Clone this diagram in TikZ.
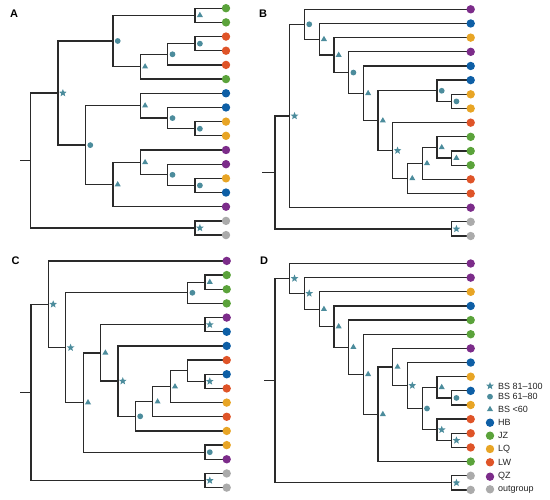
\documentclass[tikz,border=0pt]{standalone}
\usepackage{fontspec}
\setmainfont{Liberation Sans}
\usetikzlibrary{shapes.geometric}
\definecolor{HB}{HTML}{0E5FA6}
\definecolor{JZ}{HTML}{5BA33B}
\definecolor{LQ}{HTML}{E8A525}
\definecolor{LW}{HTML}{DF5428}
\definecolor{QZ}{HTML}{7C2C8A}
\definecolor{OG}{HTML}{ABABAB}
\definecolor{mkc}{HTML}{4C8C9C}
\definecolor{treecol}{HTML}{2A2A2A}
\definecolor{txtcol}{HTML}{222222}
\tikzset{
 branch/.style={draw=treecol, line width=1.3pt},
 tipdot/.style={circle, inner sep=0pt, minimum size=8.4pt},
 mstar/.style={star, star points=5, star point ratio=2.3, fill=mkc, inner sep=0pt, minimum size=8pt},
 mcirc/.style={circle, fill=mkc, inner sep=0pt, minimum size=5.8pt},
 mtri/.style={regular polygon, regular polygon sides=3, fill=mkc, inner sep=0pt, minimum size=7pt},
 lab/.style={anchor=west, inner sep=0pt, text=txtcol, font=\fontsize{9}{10}\selectfont},
 plab/.style={inner sep=0pt, text=black, font=\fontsize{11}{12}\selectfont\bfseries},
}
\newcommand\Nd[3]{\coordinate (#1) at ({\pX+\pDX*#2},{\pY+\pDY*(#3-1)});}
\newcommand\St[3]{\coordinate (#1) at ({#2},{\pY+\pDY*(#3-1)});}
\begin{document}
\begin{tikzpicture}[x=1pt,y=-1pt]
\useasboundingbox (0,0) rectangle (550,500);
% ---------------- Panel A
\def\pX{30.7}\def\pDX{27.4}\def\pY{8.2}\def\pDY{14.18}\def\pTX{226}
\foreach \i in {1,...,17} \coordinate (A\i) at ({\pTX},{\pY+\pDY*(\i-1)});
\Nd{a0}{0}{11.742}\Nd{a14}{1}{6.984}\Nd{a5}{3}{3.3125}\Nd{a1}{6}{1.5}
\Nd{a4}{4}{5.125}\Nd{a2}{5}{4.25}\Nd{a3}{6}{3.5}\Nd{a13}{2}{10.656}
\Nd{a6}{4}{7.875}\Nd{a7}{5}{8.75}\Nd{a8}{6}{9.5}\Nd{a12}{3}{13.4375}
\Nd{a9}{4}{11.875}\Nd{a10}{5}{12.75}\Nd{a11}{6}{13.5}\Nd{a15}{6}{16.5}
\St{aS}{20}{11.742}
\draw[branch] (aS) -- (a0);
\foreach \p/\c in {a0/a14,a0/a15,a14/a5,a14/a13,a5/a1,a5/a4,a1/A1,a1/A2,a4/a2,a4/A6,a2/a3,a2/A5,a3/A3,a3/A4,a13/a6,a13/a12,a6/A7,a6/a7,a7/A8,a7/a8,a8/A9,a8/A10,a12/a9,a12/A15,a9/A11,a9/a10,a10/A12,a10/a11,a11/A13,a11/A14,a15/A16,a15/A17}
  \draw[branch] (\p) |- (\c);
\foreach \n/\s in {a1/mtri,a3/mcirc,a2/mcirc,a4/mtri,a5/mcirc,a14/mstar,a8/mcirc,a7/mcirc,a6/mtri,a11/mcirc,a10/mcirc,a9/mtri,a12/mtri,a13/mcirc,a15/mstar}
  \node[\s, xshift=4.8pt] (m\n) at (\n) {};
\foreach \i/\c in {1/JZ,2/JZ,3/LW,4/LW,5/LW,6/JZ,7/HB,8/HB,9/LQ,10/LQ,11/QZ,12/QZ,13/LQ,14/HB,15/QZ,16/OG,17/OG}
  \node[tipdot, fill=\c] (tA\i) at (A\i) {};
% ---------------- Panel B
\def\pX{275}\def\pDX{14.72}\def\pY{9.3}\def\pDY{14.17}\def\pTX{470.7}
\foreach \i in {1,...,17} \coordinate (B\i) at ({\pTX},{\pY+\pDY*(\i-1)});
\Nd{b0}{0}{12.515}\Nd{b1}{1}{8.529}\Nd{b2}{2}{2.058}\Nd{b3}{3}{3.116}
\Nd{b4}{4}{4.232}\Nd{b5}{5}{5.465}\Nd{b6}{6}{6.930}\Nd{b7}{7}{8.859}
\Nd{b8}{11}{6.75}\Nd{b9}{12}{7.5}\Nd{b10}{8}{10.969}\Nd{b11}{9}{12.9375}
\Nd{b12}{10}{11.875}\Nd{b13}{11}{10.75}\Nd{b14}{12}{11.5}\Nd{b15}{12}{16.5}
\St{bS}{262}{12.515}
\draw[branch] (bS) -- (b0);
\foreach \p/\c in {b0/b1,b0/b15,b1/b2,b1/B15,b2/B1,b2/b3,b3/B2,b3/b4,b4/B3,b4/b5,b5/B4,b5/b6,b6/B5,b6/b7,b7/b8,b7/b10,b8/B6,b8/b9,b9/B7,b9/B8,b10/B9,b10/b11,b11/b12,b11/B14,b12/b13,b12/B13,b13/B10,b13/b14,b14/B11,b14/B12,b15/B16,b15/B17}
  \draw[branch] (\p) |- (\c);
\foreach \n/\s in {b1/mstar,b2/mcirc,b3/mtri,b4/mtri,b5/mcirc,b6/mtri,b7/mtri,b8/mcirc,b9/mcirc,b10/mstar,b11/mtri,b12/mtri,b13/mtri,b14/mtri,b15/mstar}
  \node[\s, xshift=4.8pt] (m\n) at (\n) {};
\foreach \i/\c in {1/QZ,2/HB,3/LQ,4/QZ,5/HB,6/HB,7/LQ,8/LQ,9/LW,10/JZ,11/JZ,12/JZ,13/LW,14/LW,15/QZ,16/OG,17/OG}
  \node[tipdot, fill=\c] (tB\i) at (B\i) {};
% ---------------- Panel C
\def\pX{31}\def\pDX{17.4}\def\pY{260.9}\def\pDY{14.17}\def\pTX{226.7}
\foreach \i in {1,...,17} \coordinate (C\i) at ({\pTX},{\pY+\pDY*(\i-1)});
\Nd{c0}{0}{10.281}\Nd{c1}{1}{4.061}\Nd{c2}{2}{7.123}\Nd{c3}{9}{3.25}
\Nd{c4}{10}{2.5}\Nd{c5}{3}{10.996}\Nd{c6}{4}{7.492}\Nd{c7}{10}{5.5}
\Nd{c8}{5}{9.484}\Nd{c9}{6}{11.969}\Nd{c10}{7}{10.9375}\Nd{c11}{8}{9.875}
\Nd{c12}{9}{8.75}\Nd{c13}{10}{9.5}\Nd{c14}{10}{14.5}\Nd{c15}{10}{16.5}
\St{cS}{20}{10.281}
\draw[branch] (cS) -- (c0);
\foreach \p/\c in {c0/c1,c0/c15,c1/C1,c1/c2,c2/c3,c2/c5,c3/c4,c3/C4,c4/C2,c4/C3,c5/c6,c5/c14,c6/c7,c6/c8,c7/C5,c7/C6,c8/C7,c8/c9,c9/c10,c9/C13,c10/c11,c10/C12,c11/c12,c11/C11,c12/C8,c12/c13,c13/C9,c13/C10,c14/C14,c14/C15,c15/C16,c15/C17}
  \draw[branch] (\p) |- (\c);
\foreach \n/\s in {c1/mstar,c2/mstar,c3/mcirc,c4/mtri,c5/mtri,c6/mtri,c7/mstar,c8/mstar,c9/mcirc,c10/mtri,c11/mtri,c13/mstar,c14/mcirc,c15/mstar}
  \node[\s, xshift=4.8pt] (m\n) at (\n) {};
\foreach \i/\c in {1/QZ,2/JZ,3/JZ,4/JZ,5/QZ,6/HB,7/HB,8/LW,9/HB,10/LW,11/LQ,12/LW,13/LQ,14/LQ,15/QZ,16/OG,17/OG}
  \node[tipdot, fill=\c] (tC\i) at (C\i) {};
% ---------------- Panel D
\def\pX{275}\def\pDX{14.72}\def\pY{263.5}\def\pDY{14.15}\def\pTX{470.7}
\foreach \i in {1,...,17} \coordinate (D\i) at ({\pTX},{\pY+\pDY*(\i-1)});
\Nd{d0}{0}{9.279}\Nd{d1}{1}{2.057}\Nd{d2}{2}{3.114}\Nd{d3}{3}{4.229}
\Nd{d4}{4}{5.457}\Nd{d5}{5}{6.914}\Nd{d6}{6}{8.828}\Nd{d7}{7}{11.656}
\Nd{d8}{8}{8.3125}\Nd{d9}{9}{9.625}\Nd{d10}{10}{11.25}\Nd{d11}{11}{9.75}
\Nd{d12}{12}{10.5}\Nd{d13}{11}{12.75}\Nd{d14}{12}{13.5}\Nd{d15}{12}{16.5}
\St{dS}{264}{9.279}
\draw[branch] (dS) -- (d0);
\foreach \p/\c in {d0/d1,d0/d15,d1/D1,d1/d2,d2/D2,d2/d3,d3/D3,d3/d4,d4/D4,d4/d5,d5/D5,d5/d6,d6/D6,d6/d7,d7/d8,d7/D15,d8/D7,d8/d9,d9/D8,d9/d10,d10/d11,d10/d13,d11/D9,d11/d12,d12/D10,d12/D11,d13/D12,d13/d14,d14/D13,d14/D14,d15/D16,d15/D17}
  \draw[branch] (\p) |- (\c);
\foreach \n/\s in {d1/mstar,d2/mstar,d3/mtri,d4/mtri,d5/mtri,d6/mtri,d7/mtri,d8/mtri,d9/mstar,d10/mcirc,d11/mtri,d12/mcirc,d13/mstar,d14/mstar,d15/mstar}
  \node[\s, xshift=4.8pt] (m\n) at (\n) {};
\foreach \i/\c in {1/QZ,2/QZ,3/LQ,4/HB,5/JZ,6/JZ,7/QZ,8/HB,9/LQ,10/HB,11/LQ,12/LW,13/LW,14/LW,15/JZ,16/OG,17/OG}
  \node[tipdot, fill=\c] (tD\i) at (D\i) {};
% ---------------- Legend
\node[mstar] (l1) at (490,386) {};   \node[lab] (lt1) at (498,386) {BS 81–100};
\node[mcirc] (l2) at (490,396.7) {}; \node[lab] (lt2) at (498,396.7) {BS 61–80};
\node[mtri] (l3) at (490,409.3) {};  \node[lab] (lt3) at (498,409.3) {BS <60};
\node[tipdot, fill=HB] (l4) at (490,422.7) {}; \node[lab] (lt4) at (498,422.7) {HB};
\node[tipdot, fill=JZ] (l5) at (490,435.7) {}; \node[lab] (lt5) at (498,435.7) {JZ};
\node[tipdot, fill=LQ] (l6) at (490,449) {};   \node[lab] (lt6) at (498,449) {LQ};
\node[tipdot, fill=LW] (l7) at (490,462.3) {}; \node[lab] (lt7) at (498,462.3) {LW};
\node[tipdot, fill=QZ] (l8) at (490,476.7) {}; \node[lab] (lt8) at (498,476.7) {QZ};
\node[tipdot, fill=OG] (l9) at (490,489.3) {}; \node[lab] (lt9) at (498,489.3) {outgroup};
% ---------------- Panel labels
\node[plab] (pA) at (14,13.5) {A};
\node[plab] (pB) at (263,13.5) {B};
\node[plab] (pC) at (15.5,260.5) {C};
\node[plab] (pD) at (264,261) {D};
\end{tikzpicture}
\end{document}
